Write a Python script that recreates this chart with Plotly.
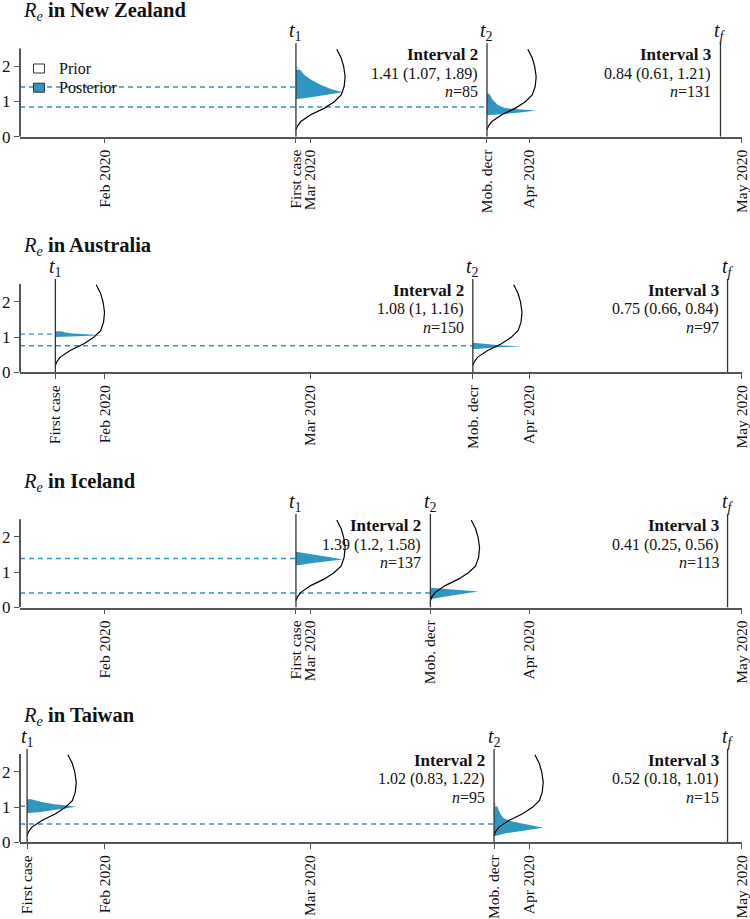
import pandas as pd
import plotly.graph_objects as go

# ---------------- data ----------------
countries = ["New Zealand", "Australia", "Iceland", "Taiwan"]
first_case = ["2020-02-28", "2020-01-25", "2020-02-28", "2020-01-21"]
mob_decr = ["2020-03-26", "2020-03-24", "2020-03-18", "2020-03-27"]
t_final = ["2020-04-28", "2020-04-29", "2020-04-29", "2020-04-29"]

# interval 2 (first case -> mobility decrease) and interval 3 (mob. decr -> tf)
med2 = [1.41, 1.08, 1.39, 1.02]
lo2 = [1.07, 1, 1.2, 0.83]
hi2 = [1.89, 1.16, 1.58, 1.22]
n2 = [85, 150, 137, 95]
med3 = [0.84, 0.75, 0.41, 0.52]
lo3 = [0.61, 0.66, 0.25, 0.18]
hi3 = [1.21, 0.84, 0.56, 1.01]
n3 = [131, 97, 113, 15]

# prior density (normalised to max 1)
prior_re = [0.2, 0.3, 0.43, 0.62, 0.81, 0.99, 1.18, 1.42, 1.70, 1.99, 2.23, 2.48]
prior_dens = [0.0, 0.03, 0.10, 0.30, 0.58, 0.78, 0.92, 0.98, 1.0, 0.97, 0.92, 0.83]

# posterior densities inside the credible interval (normalised)
post2_re = [
    [1.07, 1.09, 1.16, 1.26, 1.35, 1.47, 1.61, 1.75, 1.89],
    [1.0, 1.02, 1.05, 1.07, 1.10, 1.13, 1.16],
    [1.20, 1.25, 1.30, 1.36, 1.42, 1.49, 1.58],
    [0.83, 0.86, 0.94, 1.01, 1.04, 1.08, 1.15, 1.22],
]
post2_dens = [
    [0.02, 0.17, 0.50, 0.95, 0.71, 0.50, 0.31, 0.17, 0.09],
    [0.05, 0.45, 0.98, 0.60, 0.35, 0.20, 0.12],
    [0.05, 0.30, 0.60, 0.95, 0.70, 0.42, 0.05],
    [0.03, 0.27, 0.68, 1.0, 0.82, 0.55, 0.27, 0.08],
]
post3_re = [
    [0.61, 0.63, 0.68, 0.74, 0.77, 0.81, 0.90, 1.04, 1.21],
    [0.66, 0.70, 0.74, 0.76, 0.80, 0.84],
    [0.25, 0.30, 0.36, 0.42, 0.45, 0.48, 0.52, 0.56],
    [0.18, 0.26, 0.32, 0.41, 0.49, 0.58, 0.68, 0.82, 1.01],
]
post3_dens = [
    [0.02, 0.22, 0.63, 1.0, 0.70, 0.36, 0.22, 0.12, 0.05],
    [0.05, 0.45, 1.0, 0.60, 0.30, 0.12],
    [0.05, 0.25, 0.50, 0.80, 0.98, 0.70, 0.35, 0.08],
    [0.02, 0.26, 0.59, 1.0, 0.73, 0.39, 0.19, 0.12, 0.07],
]
# posterior mass above the interval (light grey)
tail2_re = [[1.89, 1.96, 2.03], [], [], []]
tail2_dens = [[0.09, 0.05, 0.0], [], [], []]
tail3_re = [[1.21, 1.25, 1.28], [], [], [1.01, 1.08, 1.15]]
tail3_dens = [[0.05, 0.03, 0.0], [], [], [0.07, 0.04, 0.0]]

month_ticks = ["2020-02-01", "2020-03-01", "2020-04-01", "2020-05-01"]
month_labels = ["Feb 2020", "Mar 2020", "Apr 2020", "May 2020"]
legend_names = ["Prior", "Posterior"]

# ---------------- styling ----------------
BLUE = "#2f97bf"
GREY_TAIL = "#d6d6d6"
AXC = "#555555"
FONT = "Liberation Serif"
W = 6.95  # days of horizontal width for density 1
W_PX, H_PX = 750, 919
zero_px = [136.7, 372.3, 607.5, 842.3]
unit_px = 35.3
YTOP = 2.66
x_left, x_right = 20, 742


def px_y(p):
    return 1 - p / H_PX


def px_x(p):
    return p / W_PX


def shift(t, d):
    return pd.Timestamp(t) + pd.to_timedelta(d * W, unit="D")


def violin(t, re, dens):
    xs = [pd.Timestamp(t)] + [shift(t, d) for d in dens] + [pd.Timestamp(t)]
    ys = [re[0]] + list(re) + [re[-1]]
    return xs, ys


fig = go.Figure()
shapes = []
annots = []

for i, c in enumerate(countries):
    k = "" if i == 0 else str(i + 1)
    xa, ya = "x" + k, "y" + k
    t1, t2, tf = first_case[i], mob_decr[i], t_final[i]

    # dashed median lines
    for med, tend in ((med2[i], t1), (med3[i], t2)):
        shapes.append(dict(type="line", xref=xa, yref=ya, x0="2020-01-20", x1=tend,
                           y0=med, y1=med, layer="below",
                           line=dict(color=BLUE, width=1.4, dash="5px,4px")))

    for t, tr, td, pr, pd_ in ((t1, tail2_re[i], tail2_dens[i], post2_re[i], post2_dens[i]),
                               (t2, tail3_re[i], tail3_dens[i], post3_re[i], post3_dens[i])):
        if tr:
            xs, ys = violin(t, tr, td)
            fig.add_trace(go.Scatter(x=xs, y=ys, xaxis=xa, yaxis=ya, fill="toself",
                                     fillcolor=GREY_TAIL, mode="lines", line=dict(width=0),
                                     showlegend=False, hoverinfo="skip"))
        xs, ys = violin(t, pr, pd_)
        fig.add_trace(go.Scatter(x=xs, y=ys, xaxis=xa, yaxis=ya, fill="toself",
                                 fillcolor=BLUE, mode="lines", line=dict(width=0),
                                 showlegend=False, hoverinfo="skip"))
        fig.add_trace(go.Scatter(x=[shift(t, d) for d in prior_dens], y=prior_re,
                                 xaxis=xa, yaxis=ya, mode="lines",
                                 line=dict(color="black", width=1.2),
                                 showlegend=False, hoverinfo="skip"))

    # vertical t lines
    for t, lab in ((t1, "<i>t</i><sub>1</sub>"), (t2, "<i>t</i><sub>2</sub>"),
                   (tf, "<i>t</i><sub><i>f</i></sub>")):
        shapes.append(dict(type="line", xref=xa, yref=ya, x0=t, x1=t, y0=0, y1=2.65,
                           line=dict(color="#333333", width=1.3)))
        annots.append(dict(xref=xa, yref="paper", x=t, y=px_y(zero_px[i] - 105),
                           text=lab, showarrow=False,
                           font=dict(family=FONT, size=20, color="#111111"),
                           xanchor="center", yanchor="middle"))

    # y axis line
    shapes.append(dict(type="line", xref=xa + " domain", yref=ya, x0=0, x1=0, y0=0, y1=2.5,
                       line=dict(color=AXC, width=2)))

    # title
    annots.append(dict(xref="paper", yref="paper", x=px_x(21), y=px_y(zero_px[i] - 125.5),
                       text="<i>R</i><sub><i>e</i></sub> <b>in " + c + "</b>",
                       showarrow=False, xanchor="left", yanchor="middle",
                       font=dict(family=FONT, size=20.5, color="#111111")))

    # interval summaries
    for t, name, m, lo, hi, n in ((t2, "Interval 2", med2[i], lo2[i], hi2[i], n2[i]),
                                  (tf, "Interval 3", med3[i], lo3[i], hi3[i], n3[i])):
        lines = ["<b>" + name + "</b>", f"{m:g} ({lo:g}, {hi:g})", f"<i>n</i>={n}"]
        offs = [82, 63, 45]
        sizes = [17, 16, 16]
        for txt, o, s in zip(lines, offs, sizes):
            annots.append(dict(xref=xa, yref="paper", x=t, xshift=-7, y=px_y(zero_px[i] - o),
                               text=txt, showarrow=False, xanchor="right", yanchor="middle",
                               font=dict(family=FONT, size=s, color="#111111")))

    tv = [t1] + month_ticks + [t2]
    tt = ["First case"] + month_labels + ["Mob. decr"]
    fig.update_layout({
        "xaxis" + k: dict(domain=[px_x(x_left), px_x(x_right)], anchor=ya, type="date",
                          range=["2020-01-20", "2020-05-01 01:00"], tickvals=tv, ticktext=tt,
                          tickangle=-90, ticks="outside", ticklen=5, tickcolor=AXC,
                          showline=True, linecolor=AXC, linewidth=1.5, showgrid=False,
                          zeroline=False, automargin=False,
                          tickfont=dict(family=FONT, size=15.5, color="#111111")),
        "yaxis" + k: dict(domain=[px_y(zero_px[i]), px_y(zero_px[i] - YTOP * unit_px)],
                          anchor=xa, range=[0, YTOP], tickvals=[0, 1, 2], ticks="outside",
                          ticklen=5, tickcolor=AXC, showline=False, showgrid=False,
                          zeroline=False, automargin=False,
                          tickfont=dict(family=FONT, size=17, color="#111111")),
    })

# legend (top-left of first panel)
for name, fillc, cy in zip(legend_names, ["white", BLUE], [68.5, 87.7]):
    shapes.append(dict(type="rect", xref="paper", yref="paper",
                       x0=px_x(33.5), x1=px_x(44.5), y0=px_y(cy + 4.5), y1=px_y(cy - 4.5),
                       fillcolor=fillc, line=dict(color="#333333", width=1)))
    annots.append(dict(xref="paper", yref="paper", x=px_x(57), y=px_y(cy), text=name,
                       showarrow=False, xanchor="left", yanchor="middle",
                       font=dict(family=FONT, size=16, color="#111111")))

fig.update_layout(
    width=W_PX, height=H_PX,
    margin=dict(l=0, r=0, t=0, b=0),
    paper_bgcolor="white", plot_bgcolor="white",
    shapes=shapes, annotations=annots,
    showlegend=False,
)

fig.write_html("out.html", config={"displayModeBar": False},
               post_script="document.body.style.margin = '0';")
